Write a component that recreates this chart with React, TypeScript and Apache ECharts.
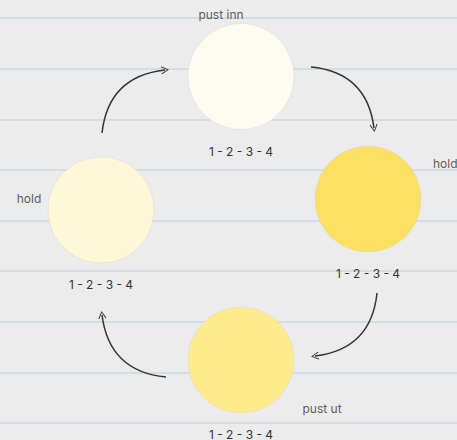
import React, { useEffect, useRef } from "react";
import * as echarts from "echarts";

// Breathing cycle: four phases placed around a circle
const phaseNames = ["pust inn", "hold", "pust ut", "hold"];
const countLabels = ["1 - 2 - 3 - 4", "1 - 2 - 3 - 4", "1 - 2 - 3 - 4", "1 - 2 - 3 - 4"];
const circleX = [241, 368, 241, 101];
const circleY = [76.5, 199, 360, 210];
const circleColors = ["#fefcf0", "#fbe062", "#feeb8c", "#fef8d9"];

// arrows between phases (start / end points)
const arrowStart = [
  [311, 67],
  [377, 293],
  [166, 377],
  [102, 133],
];
const arrowEnd = [
  [374, 128],
  [315, 356],
  [102, 315],
  [165, 70],
];

const nameOffsets = [
  [-20, -62.5],
  [65, -36],
  [81, 48],
  [-72, -12],
];
const nameAlign = ["center", "left", "center", "center"];

const FONT = "Inter, 'Noto Sans', sans-serif";
const chevron = "path://M50,0 L100,70 L90,77 L50,17 L10,77 L0,70 Z";

export default function App() {
  const ref = useRef<HTMLDivElement>(null);
  useEffect(() => {
    if (!ref.current) return;
    const chart = echarts.init(ref.current, null, { renderer: "svg" });
    chart.setOption({
      animation: false,
      backgroundColor: "#ececed",
      grid: [
        { left: 0, right: 0, top: 0, bottom: 0 },
        { left: 0, right: 0, top: 18, bottom: 17 },
      ],
      xAxis: [
        { type: "value", gridIndex: 0, min: 0, max: 457, show: false },
        { type: "value", gridIndex: 1, min: 0, max: 1, show: false },
      ],
      yAxis: [
        { type: "value", gridIndex: 0, min: 0, max: 440, inverse: true, show: false },
        {
          type: "value",
          gridIndex: 1,
          min: 0,
          max: 8,
          interval: 1,
          axisLine: { show: false },
          axisTick: { show: false },
          axisLabel: { show: false },
          splitLine: { show: true, lineStyle: { color: "#cbd9de", width: 1.5 } },
        },
      ],
      series: [
        {
          type: "lines",
          coordinateSystem: "cartesian2d",
          xAxisIndex: 0,
          yAxisIndex: 0,
          symbol: ["none", chevron],
          symbolSize: [11, 8],
          lineStyle: { color: "#333333", width: 1.5, curveness: 0.4, opacity: 1 },
          data: arrowStart.map((s, i) => ({ coords: [s, arrowEnd[i]] })),
          z: 3,
        },
        {
          type: "scatter",
          xAxisIndex: 0,
          yAxisIndex: 0,
          symbol: "circle",
          symbolSize: 106,
          data: circleX.map((x, i) => ({
            value: [x, circleY[i]],
            itemStyle: { color: circleColors[i] },
          })),
          itemStyle: { borderColor: "#d6d6d0", borderWidth: 0.5, opacity: 1 },
          label: {
            show: true,
            position: "inside",
            offset: [0, 74.5],
            formatter: (p: any) => countLabels[p.dataIndex],
            color: "#333333",
            fontSize: 12,
            fontFamily: FONT,
          },
          z: 2,
        },
        {
          type: "scatter",
          xAxisIndex: 0,
          yAxisIndex: 0,
          symbolSize: 0,
          silent: true,
          data: circleX.map((x, i) => ({
            value: [x, circleY[i]],
            label: { offset: nameOffsets[i], align: nameAlign[i] },
          })),
          label: {
            show: true,
            position: "inside",
            formatter: (p: any) => phaseNames[p.dataIndex],
            color: "#333333",
            fontSize: 12,
            fontFamily: FONT,
          },
          z: 4,
        },
      ],
    });
    return () => chart.dispose();
  }, []);
  return (
    <div
      ref={ref}
      style={{ position: "fixed", left: 0, top: 0, width: 457, height: 440 }}
    />
  );
}
